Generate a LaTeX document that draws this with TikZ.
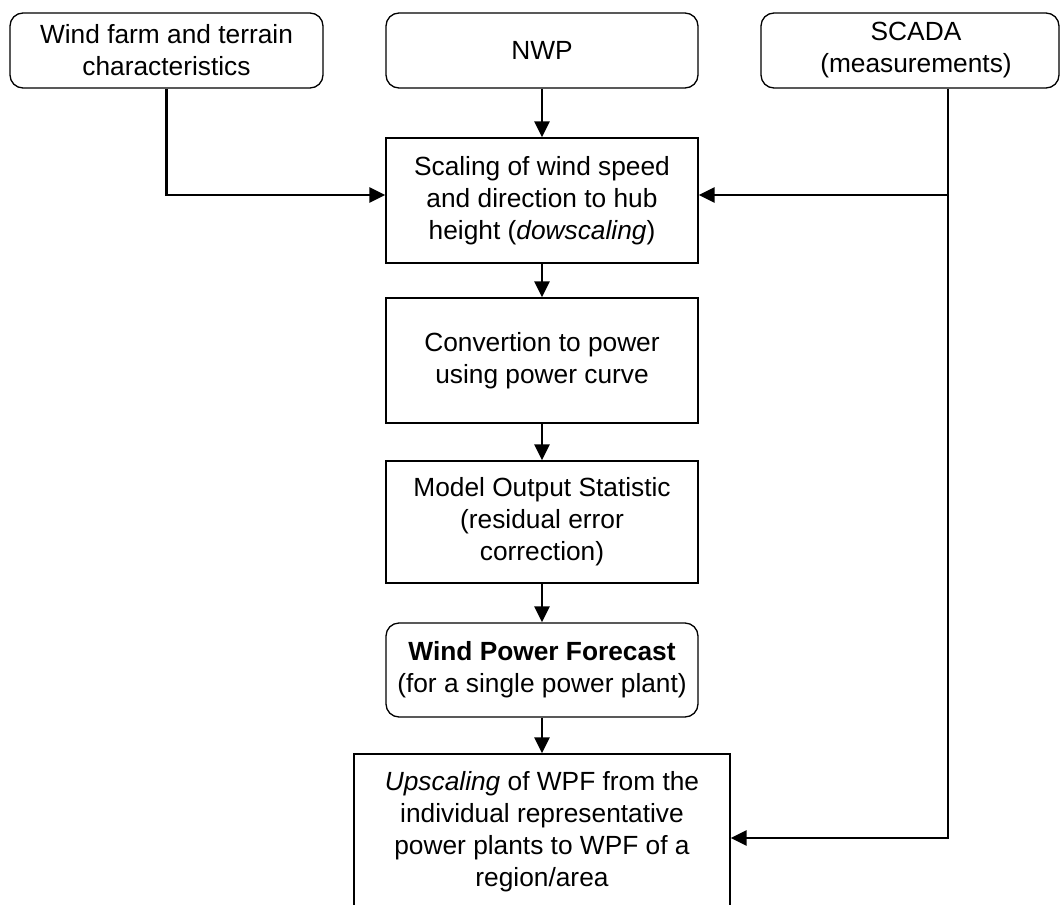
\documentclass[tikz,border=0pt]{standalone}
\usepackage{fontspec}
\setmainfont{Liberation Sans}
\usetikzlibrary{arrows.meta}
\begin{document}
\begin{tikzpicture}[x=1pt,y=-1pt,
  box/.style={draw, line width=1.3pt, align=center, inner sep=0pt,
    font=\fontsize{26.3}{32}\selectfont},
  rbox/.style={box, rounded corners=13pt},
  flow/.style={line width=2.4pt, -{Triangle[length=16pt,width=15pt]}},
  feed/.style={line width=2.4pt}]
\useasboundingbox (0,0) rectangle (1061,905);
\clip (0,0) rectangle (1061,905);

% inputs
\node[rbox, minimum width=313pt, minimum height=75pt] (terrain) at (166.5,50.5)
  {Wind farm and terrain\\characteristics};
\node[rbox, minimum width=312pt, minimum height=75pt] (nwp) at (542,50.5) {NWP};
\node[rbox, minimum width=298pt, minimum height=75pt] (scada) at (910,50.5)
  {\hspace*{12pt}SCADA\\\hspace*{12pt}(measurements)};

% processing chain
\node[box, minimum width=312pt, minimum height=125pt] (scale) at (542,200.5)
  {Scaling of wind speed\\and direction to hub\\height (\textit{dowscaling})};
\node[box, minimum width=312pt, minimum height=125pt] (conv) at (542,360.5)
  {Convertion to power\\using power curve};
\node[box, minimum width=312pt, minimum height=122pt] (mos) at (542,522)
  {Model Output Statistic\\(residual error\\correction)};
\node[rbox, minimum width=312pt, minimum height=94pt] (wpf) at (542,670)
  {\textbf{Wind Power Forecast}\\(for a single power plant)};
\node[box, minimum width=376pt, minimum height=156pt] (up) at (542,832)
  {\textit{Upscaling} of WPF from the\\individual representative\\power plants to WPF of a\\region/area};

% measurement bus
\coordinate (tapMid) at (948,195);
\coordinate (tapLow) at (948,838);

% connectors
\draw[flow] (terrain.south) |- (scale.west |- tapMid);
\draw[flow] (nwp) -- (scale);
\draw[flow] (scale) -- (conv);
\draw[flow] (conv) -- (mos);
\draw[flow] (mos) -- (wpf);
\draw[flow] (wpf) -- (up);
\draw[feed] (scada.south -| tapMid) -- (tapMid);
\draw[flow] (tapMid) -- (scale.east |- tapMid);
\draw[flow] (tapMid) -- (tapLow) -- (up.east |- tapLow);
\end{tikzpicture}
\end{document}
